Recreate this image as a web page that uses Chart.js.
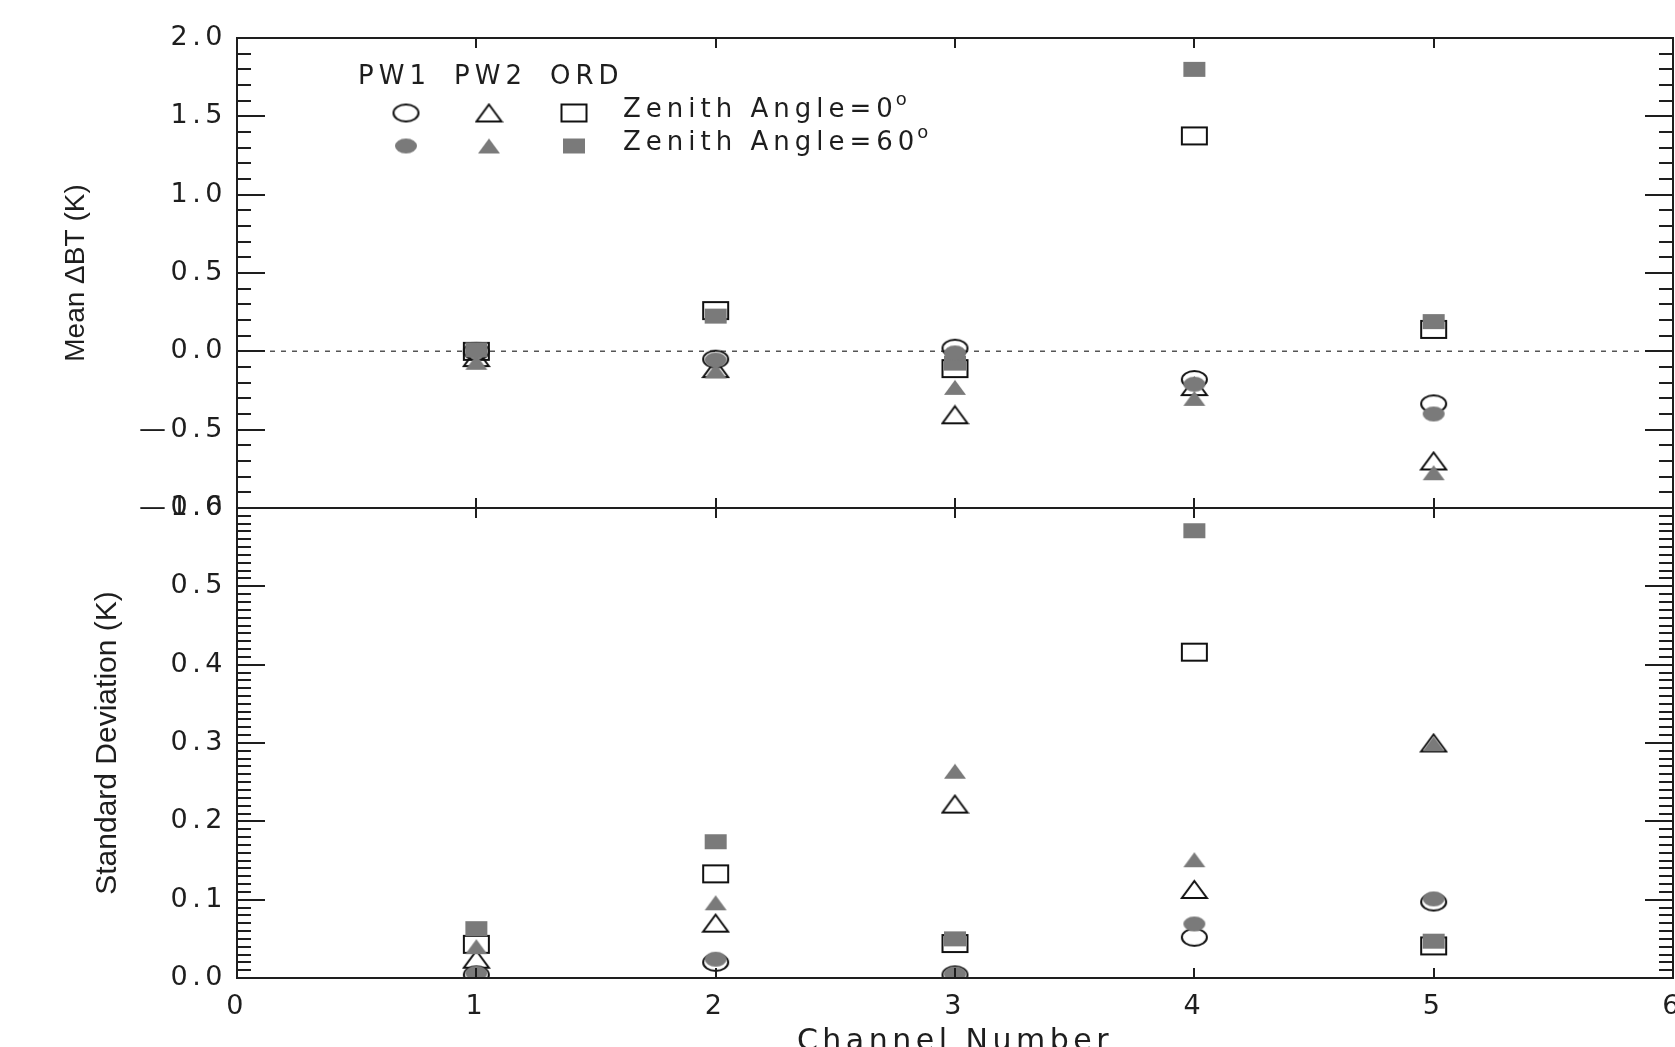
<!DOCTYPE html>
<html>
<head>
<meta charset="utf-8">
<script src="https://cdn.jsdelivr.net/npm/chart.js@4.4.1/dist/chart.umd.min.js"></script>
<style>
  html, body { margin: 0; padding: 0; background: #fff; overflow: hidden; }
  body { width: 1675px; height: 1047px; position: relative; }
  canvas { position: absolute; left: 0; }
  #meanChart { top: 0; }
  #sdChart { top: 470px; }
</style>
</head>
<body>
<canvas id="meanChart" width="1675" height="530"></canvas>
<canvas id="sdChart" width="1675" height="600"></canvas>
<script>
const channels = [1, 2, 3, 4, 5];
const channelTicks = [0, 1, 2, 3, 4, 5, 6];

// mean delta BT (K), zenith 0 and 60 deg
const meanPW1_0  = [0.00, -0.05, 0.02, -0.18, -0.335];
const meanPW1_60 = [0.00, -0.055, -0.01, -0.21, -0.40];
const meanPW2_0  = [-0.04, -0.11, -0.405, -0.225, -0.70];
const meanPW2_60 = [-0.07, -0.125, -0.23, -0.30, -0.775];
const meanORD_0  = [0.00, 0.26, -0.11, 1.375, 0.14];
const meanORD_60 = [0.01, 0.225, -0.075, 1.80, 0.19];

// standard deviation (K)
const sdPW1_0  = [0.004, 0.020, 0.004, 0.052, 0.097];
const sdPW1_60 = [0.006, 0.024, 0.005, 0.069, 0.101];
const sdPW2_0  = [0.024, 0.070, 0.222, 0.113, 0.300];
const sdPW2_60 = [0.040, 0.096, 0.264, 0.151, 0.299];
const sdORD_0  = [0.043, 0.133, 0.044, 0.416, 0.041];
const sdORD_60 = [0.063, 0.174, 0.050, 0.571, 0.047];

const meanTicks = [-1.0, -0.5, 0.0, 0.5, 1.0, 1.5, 2.0];
const sdTicks = [0.0, 0.1, 0.2, 0.3, 0.4, 0.5, 0.6];
const zeroLine = [0, 0];

const legendHeads = ['PW1', 'PW2', 'ORD'];
const legendRows = ['Zenith Angle=0', 'Zenith Angle=60'];

const GRAY = 'rgb(122,122,122)';
const INK = '#1e1e1e';
const TICKFONT = { family: '"DejaVu Sans"', size: 27 };
const SPACING = '4.5px';

// IDL style symbols: open = black outline, filled = gray
function marker(shape, filled) {
  const w = filled ? 22 : 25, h = filled ? 15 : 17;
  const c = document.createElement('canvas');
  c.width = w + 4; c.height = h + 4;
  const g = c.getContext('2d');
  g.translate(2, 2);
  g.beginPath();
  if (shape === 'circle') g.ellipse(w / 2, h / 2, w / 2, h / 2, 0, 0, Math.PI * 2);
  else if (shape === 'square') g.rect(0, 0, w, h);
  else { g.moveTo(w / 2, 0); g.lineTo(w, h); g.lineTo(0, h); g.closePath(); }
  if (filled) { g.fillStyle = GRAY; g.fill(); }
  else { g.lineWidth = 2; g.strokeStyle = '#111'; g.stroke(); }
  return c;
}
const sym = {
  c0: marker('circle', false), t0: marker('tri', false), s0: marker('square', false),
  c60: marker('circle', true), t60: marker('tri', true), s60: marker('square', true)
};

const ds = (label, ys, img, order) => ({
  label: label,
  order: order,
  data: channels.map((c, i) => ({ x: c, y: ys[i] })),
  pointStyle: img,
  pointRadius: 12,
  clip: 0
});

const fmt = v => (v < 0 ? '\u2014' : '') + Math.abs(v).toFixed(1);

// wide vector-font look for all library text
const spacing = {
  id: 'spacing',
  beforeDraw(chart) { chart.ctx.letterSpacing = SPACING; }
};

const frameTicks = {
  id: 'frameTicks',
  afterDatasetsDraw(chart, args, o) {
    const { ctx, chartArea: a } = chart;
    const xs = chart.scales.x, ys = chart.scales.y;
    ctx.save();
    ctx.strokeStyle = INK;
    ctx.lineWidth = 2;
    ctx.strokeRect(a.left, a.top, a.right - a.left, a.bottom - a.top);
    ctx.beginPath();
    const n = Math.round((ys.max - ys.min) / o.minor);
    for (let i = 1; i < n; i++) {
      const v = ys.min + i * o.minor;
      const major = Math.abs(v / o.major - Math.round(v / o.major)) < 1e-6;
      const len = major ? 28 : 14;
      const py = Math.round(ys.getPixelForValue(v));
      ctx.moveTo(a.left, py); ctx.lineTo(a.left + len, py);
      ctx.moveTo(a.right, py); ctx.lineTo(a.right - len, py);
    }
    channelTicks.slice(1, -1).forEach(t => {
      const px = Math.round(xs.getPixelForValue(t));
      ctx.moveTo(px, a.top); ctx.lineTo(px, a.top + 10);
      ctx.moveTo(px, a.bottom); ctx.lineTo(px, a.bottom - 10);
    });
    ctx.stroke();
    ctx.restore();
  }
};

const sideTitle = {
  id: 'sideTitle',
  afterDraw(chart, args, o) {
    const { ctx, chartArea: a } = chart;
    ctx.save();
    ctx.letterSpacing = '0px';
    ctx.translate(o.x, (a.top + a.bottom) / 2);
    ctx.rotate(-Math.PI / 2);
    ctx.font = o.size + 'px "Liberation Sans"';
    ctx.fillStyle = INK;
    ctx.textAlign = 'center';
    ctx.textBaseline = 'middle';
    ctx.fillText(o.text, 0, 0);
    ctx.restore();
  }
};

const symbolKey = {
  id: 'symbolKey',
  afterDraw(chart) {
    const ctx = chart.ctx;
    const colX = [406, 489, 574];
    const headX = [358, 454, 550];
    const rowY = [113, 146];
    const rowSyms = [[sym.c0, sym.t0, sym.s0], [sym.c60, sym.t60, sym.s60]];
    ctx.save();
    ctx.letterSpacing = '5px';
    ctx.fillStyle = INK;
    ctx.textAlign = 'left';
    ctx.textBaseline = 'middle';
    ctx.font = '26px "DejaVu Sans"';
    legendHeads.forEach((h, i) => ctx.fillText(h, headX[i], 77));
    rowSyms.forEach((row, r) => {
      row.forEach((img, i) => ctx.drawImage(img, colX[i] - img.width / 2, rowY[r] - img.height / 2));
      const ty = rowY[r] - 3;
      ctx.font = '26px "DejaVu Sans"';
      ctx.fillText(legendRows[r], 623, ty);
      const w = ctx.measureText(legendRows[r]).width;
      ctx.font = '18px "DejaVu Sans"';
      ctx.fillText('o', 623 + w - 2, ty - 10);
    });
    ctx.restore();
  }
};

const yAxis = (min, max, ticks) => ({
  type: 'linear', min: min, max: max,
  afterBuildTicks: s => { s.ticks = ticks.map(v => ({ value: v })); },
  grid: { display: false, drawTicks: false },
  border: { display: false },
  ticks: { font: TICKFONT, color: INK, padding: 10, callback: fmt },
  afterFit: s => { s.width = 237; s.paddingTop = 0; s.paddingBottom = 0; }
});

new Chart(document.getElementById('meanChart'), {
  type: 'scatter',
  data: {
    datasets: [
      ds('PW1 0\u00b0', meanPW1_0, sym.c0, 2),
      ds('PW2 0\u00b0', meanPW2_0, sym.t0, 2),
      ds('ORD 0\u00b0', meanORD_0, sym.s0, 2),
      ds('PW1 60\u00b0', meanPW1_60, sym.c60, 1),
      ds('PW2 60\u00b0', meanPW2_60, sym.t60, 1),
      ds('ORD 60\u00b0', meanORD_60, sym.s60, 1),
      {
        label: 'zero', order: 3, showLine: true,
        data: [{ x: channelTicks[0], y: zeroLine[0] }, { x: channelTicks[channelTicks.length - 1], y: zeroLine[1] }],
        borderColor: '#555', borderWidth: 1.5, borderDash: [5, 6], pointRadius: 0
      }
    ]
  },
  options: {
    responsive: false, animation: false, devicePixelRatio: 1, events: [],
    layout: { autoPadding: false, padding: { top: 38, bottom: 0, left: 0, right: 2 } },
    scales: {
      x: {
        type: 'linear', min: 0, max: 6,
        grid: { display: false, drawTicks: false },
        border: { display: false },
        ticks: { display: false },
        afterFit: s => { s.height = 22; s.paddingLeft = 0; s.paddingRight = 0; }
      },
      y: yAxis(-1, 2, meanTicks)
    },
    plugins: {
      legend: { display: false }, tooltip: { enabled: false },
      frameTicks: { major: 0.5, minor: 0.1 },
      sideTitle: { text: 'Mean \u0394BT (K)', x: 76, size: 28 }
    }
  },
  plugins: [spacing, frameTicks, sideTitle, symbolKey]
});

new Chart(document.getElementById('sdChart'), {
  type: 'scatter',
  data: {
    datasets: [
      ds('PW1 0\u00b0', sdPW1_0, sym.c0, 2),
      ds('PW2 0\u00b0', sdPW2_0, sym.t0, 2),
      ds('ORD 0\u00b0', sdORD_0, sym.s0, 2),
      ds('PW1 60\u00b0', sdPW1_60, sym.c60, 1),
      ds('PW2 60\u00b0', sdPW2_60, sym.t60, 1),
      ds('ORD 60\u00b0', sdORD_60, sym.s60, 1)
    ]
  },
  options: {
    responsive: false, animation: false, devicePixelRatio: 1, events: [],
    layout: { autoPadding: false, padding: { top: 38, bottom: 0, left: 0, right: 2 } },
    scales: {
      x: {
        type: 'linear', min: 0, max: 6,
        afterBuildTicks: s => { s.ticks = channelTicks.map(v => ({ value: v })); },
        grid: { display: false, drawTicks: false },
        border: { display: false },
        ticks: { font: TICKFONT, color: INK, padding: 13, maxRotation: 0, autoSkip: false },
        title: { display: true, text: 'Channel Number', color: INK,
                 font: { family: '"DejaVu Sans"', size: 30 }, padding: { top: 0, bottom: 10 } },
        afterFit: s => { s.height = 92; s.paddingLeft = 0; s.paddingRight = 0; }
      },
      y: yAxis(0, 0.6, sdTicks)
    },
    plugins: {
      legend: { display: false }, tooltip: { enabled: false },
      frameTicks: { major: 0.1, minor: 0.01 },
      sideTitle: { text: 'Standard Deviation (K)', x: 108, size: 30 }
    }
  },
  plugins: [spacing, frameTicks, sideTitle]
});
</script>
</body>
</html>
